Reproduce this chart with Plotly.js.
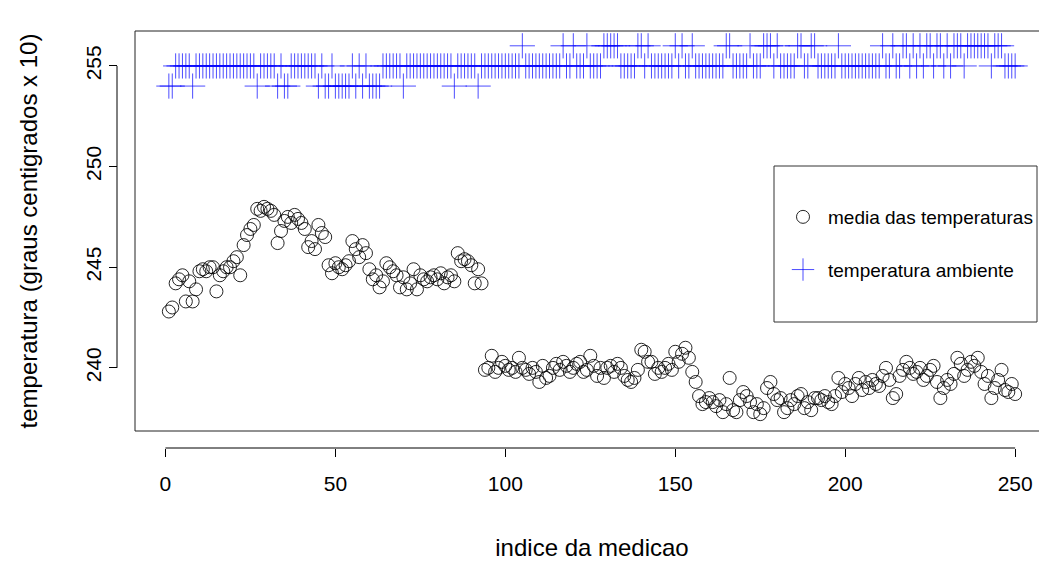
<!DOCTYPE html>
<html>
<head>
<meta charset="utf-8">
<script src="https://cdn.plot.ly/plotly-3.0.1.min.js"></script>
<style>
html, body { margin: 0; padding: 0; overflow: hidden; background: #fff; }
#chart { width: 1060px; height: 565px; }
</style>
</head>
<body>
<div id="chart"></div>
<script>
// media das temperaturas (graus centigrados x 10), one value per medicao 1..250
const mediaTemperaturas = [
  242.8,243.0,244.2,244.4,244.6,243.3,244.3,243.3,243.9,244.8,
  244.9,244.8,245.0,245.0,243.8,244.6,244.8,245.0,245.0,245.3,
  245.5,244.6,246.1,246.6,246.9,247.1,247.9,247.8,248.0,247.9,
  247.8,247.6,246.2,246.8,247.3,247.5,247.2,247.6,247.4,247.2,
  246.9,246.0,246.3,245.9,247.1,246.7,246.5,245.1,244.7,245.2,
  245.0,244.9,245.1,245.3,246.3,245.9,245.5,246.1,245.7,244.9,
  244.4,244.6,244.0,244.3,245.2,245.0,244.8,244.6,244.0,244.5,
  243.9,244.2,244.9,243.9,244.6,244.4,244.3,244.5,244.6,244.4,
  244.7,244.2,244.5,244.6,244.3,245.7,245.3,245.4,245.3,245.1,
  244.2,244.9,244.2,239.9,240.0,240.6,239.8,240.0,240.3,240.1,
  239.9,240.0,239.8,240.5,240.0,239.9,239.7,240.0,239.8,239.3,
  240.1,239.5,239.6,240.0,240.2,239.9,240.3,240.1,239.8,240.0,
  240.2,240.3,239.8,239.9,240.6,240.1,239.6,240.0,239.5,240.0,
  240.1,239.8,240.2,240.0,239.6,239.4,239.3,239.5,239.9,240.9,
  240.8,240.3,240.3,239.7,240.0,239.8,240.0,240.2,239.9,240.8,
  240.3,240.7,241.0,240.5,239.8,239.3,238.6,238.2,238.3,238.5,
  238.3,238.1,238.4,237.8,238.2,239.5,237.9,237.8,238.4,238.8,
  238.6,238.3,237.8,238.2,237.7,238.0,239.0,239.3,238.7,238.4,
  238.5,237.8,238.0,238.4,238.2,238.6,238.7,238.0,238.3,237.9,
  238.5,238.5,238.4,238.6,238.3,238.2,238.6,239.5,238.8,239.2,
  239.0,238.6,239.2,239.5,238.9,239.3,239.0,239.4,239.2,239.1,
  239.6,240.0,239.4,238.5,238.7,239.6,239.9,240.3,240.0,239.7,
  239.8,240.0,239.4,239.6,239.9,240.1,239.3,238.5,239.0,239.4,
  239.2,239.7,240.5,240.2,239.6,239.9,240.3,240.1,240.5,239.8,
  239.2,239.6,238.5,239.0,239.4,239.9,238.9,238.8,239.2,238.7
];

// temperatura ambiente (graus centigrados x 10), one value per medicao 1..250
const temperaturaAmbiente = [
  254,254,255,255,255,255,255,254,255,255,
  255,255,255,255,255,255,255,255,255,255,
  255,255,255,255,255,255,254,255,255,255,
  255,255,254,255,254,254,255,255,255,255,
  255,255,255,255,254,255,254,254,255,254,
  254,254,254,254,255,254,255,254,255,254,
  254,254,254,255,255,255,255,255,255,254,
  255,255,255,255,255,255,255,255,255,255,
  255,255,255,255,254,255,255,255,255,255,
  255,254,255,255,255,255,255,255,255,255,
  255,255,255,255,256,255,255,255,255,255,
  255,255,255,255,255,255,256,255,255,256,
  255,255,255,256,255,255,255,255,256,256,
  256,256,256,255,255,255,255,255,256,256,
  255,256,255,255,255,255,255,255,255,256,
  255,256,255,255,256,255,255,255,255,255,
  255,255,255,255,256,256,255,255,255,255,
  255,256,255,255,255,256,256,256,255,256,
  255,255,255,255,255,256,256,255,255,256,
  256,255,255,255,255,255,255,256,255,255,
  255,255,255,255,255,255,255,255,255,255,
  256,255,255,256,255,255,256,256,255,256,
  255,256,255,256,256,255,256,256,255,256,
  255,256,256,256,255,256,256,256,256,256,
  256,256,255,256,256,256,255,255,255,255
];

const xTickVals = [0, 50, 100, 150, 200, 250];
const yTickVals = [240, 245, 250, 255];
const seriesNames = ['media das temperaturas', 'temperatura ambiente'];
const xTitle = 'indice da medicao';
const yTitle = 'temperatura (graus centigrados x 10)';

const indice = mediaTemperaturas.map((_, k) => k + 1);

const FONT = 'Liberation Sans, Arial, Helvetica, sans-serif';

const traces = [
  {
    x: indice, y: mediaTemperaturas, type: 'scatter', mode: 'markers',
    name: seriesNames[0], legendgroup: 'a',
    marker: { symbol: 'circle-open', size: 13, color: 'rgba(0,0,0,0.85)', line: { width: 1, color: 'rgba(0,0,0,0.85)' } },
    hoverinfo: 'x+y'
  },
  {
    x: indice, y: temperaturaAmbiente, type: 'scatter', mode: 'markers',
    name: seriesNames[1], legendgroup: 'b',
    marker: { symbol: 'cross-thin-open', size: 18, color: 'rgba(0,0,255,0.7)', line: { width: 1, color: 'rgba(0,0,255,0.7)' } },
    hoverinfo: 'x+y'
  }
];

const W = 1060, H = 565;
const L = 117, R = 11, T = 31, B = 117;
const plotW = W - L - R, plotH = H - T - B;

function px2paperX(p) { return (p - L) / plotW; }
function px2paperY(p) { return (H - B - p) / plotH; }

const layout = {
  width: W, height: H,
  margin: { l: L, r: R, t: T, b: B, pad: 0 },
  paper_bgcolor: '#ffffff', plot_bgcolor: '#ffffff',
  font: { family: FONT, color: '#000', size: 20 },
  showlegend: true,
  legend: {
    x: px2paperX(778), y: px2paperY(198), xanchor: 'left', yanchor: 'top',
    bgcolor: 'rgba(0,0,0,0)', borderwidth: 0,
    font: { family: FONT, size: 19, color: '#000' },
    traceorder: 'grouped', tracegroupgap: 25, itemwidth: 40
  },
  xaxis: {
    domain: [px2paperX(135), 1], range: [-8.96, 259.96],
    anchor: 'free', position: 0,
    tickvals: xTickVals, ticktext: xTickVals.map(String),
    ticks: 'outside', ticklen: 8, tickwidth: 1, tickcolor: '#000',
    ticklabelstandoff: 9,
    showline: false, showgrid: false, zeroline: false,
    tickfont: { family: FONT, size: 21, color: '#000' },
    title: { text: xTitle, font: { family: FONT, size: 24, color: '#000' }, standoff: 44 },
    automargin: false
  },
  yaxis: {
    domain: [px2paperY(431), 1], range: [236.864, 256.736],
    anchor: 'free', position: 0,
    tickvals: yTickVals, ticktext: yTickVals.map(String), tickangle: -90,
    ticks: 'outside', ticklen: 8, tickwidth: 1, tickcolor: '#000',
    showline: false, showgrid: false, zeroline: false,
    tickfont: { family: FONT, size: 21, color: '#000' },
    title: { text: yTitle, font: { family: FONT, size: 24, color: '#000' }, standoff: 36 },
    automargin: false
  },
  shapes: [
    { type: 'rect', xref: 'x domain', yref: 'y domain', x0: 0, x1: 1, y0: 0, y1: 1,
      line: { color: '#222', width: 1 }, fillcolor: 'rgba(0,0,0,0)', layer: 'above' },
    { type: 'line', xref: 'x', yref: 'paper', x0: xTickVals[0], x1: xTickVals[xTickVals.length - 1], y0: 0, y1: 0,
      line: { color: '#000', width: 1 } },
    { type: 'line', xref: 'paper', yref: 'y', x0: 0, x1: 0, y0: yTickVals[0], y1: yTickVals[yTickVals.length - 1],
      line: { color: '#000', width: 1 } },
    { type: 'rect', xref: 'paper', yref: 'paper',
      x0: px2paperX(774), x1: px2paperX(1037), y0: px2paperY(322), y1: px2paperY(166),
      line: { color: '#333', width: 1 }, fillcolor: '#ffffff', layer: 'above' }
  ]
};

Plotly.newPlot('chart', traces, layout, { displayModeBar: false, staticPlot: true });
</script>
</body>
</html>
